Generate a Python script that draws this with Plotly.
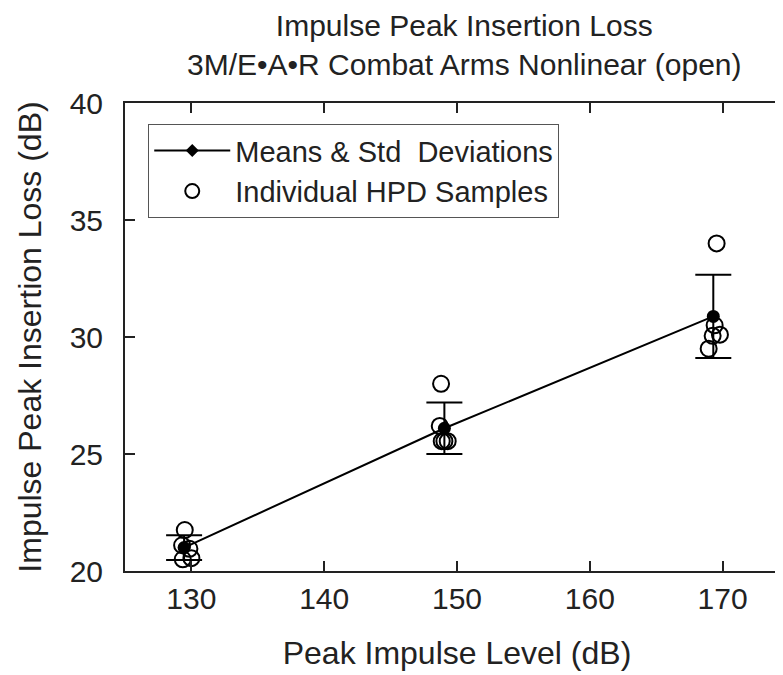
import plotly.graph_objects as go

# Individual HPD samples (peak level, insertion loss)
sample_x = [129.5, 129.3, 129.85, 129.35, 130.0,
            148.8, 148.7, 148.85, 149.3, 149.05,
            169.55, 169.4, 169.25, 169.8, 168.95]
sample_y = [21.75, 21.1, 20.95, 20.5, 20.55,
            28.0, 26.2, 25.55, 25.55, 25.55,
            34.0, 30.5, 30.05, 30.1, 29.5]

# Means and standard deviations
mean_x = [129.45, 149.05, 169.3]
mean_y = [21.0, 26.1, 30.88]
std_y = [0.53, 1.1, 1.78]

x_ticks = [130, 140, 150, 160, 170]
y_ticks = [20, 25, 30, 35, 40]

title_lines = ["Impulse Peak Insertion Loss",
               "3M/E\u2022A\u2022R Combat Arms Nonlinear (open)"]

FONT = "Arial, Liberation Sans, Helvetica, sans-serif"
INK = "#222"

fig = go.Figure()

fig.add_trace(go.Scatter(
    x=sample_x, y=sample_y, mode="markers",
    name="Individual HPD Samples",
    marker=dict(symbol="circle-open", size=16, color="black",
                line=dict(width=2, color="black")),
    showlegend=False,
))

fig.add_trace(go.Scatter(
    x=mean_x, y=mean_y, mode="lines+markers",
    name="Means & Std\u00a0 Deviations",
    line=dict(color="black", width=2),
    marker=dict(symbol="circle", size=13, color="black"),
    error_y=dict(type="data", array=std_y, visible=True,
                 color="black", thickness=2, width=18),
    showlegend=False,
))

# legend entries
fig.add_trace(go.Scatter(
    x=[None], y=[None], mode="lines+markers",
    name="Means & Std\u00a0 Deviations",
    line=dict(color="black", width=2),
    marker=dict(symbol="diamond", size=10, color="black"),
))
fig.add_trace(go.Scatter(
    x=[None], y=[None], mode="markers",
    name="Individual HPD Samples",
    marker=dict(symbol="circle-open", size=14, color="black",
                line=dict(width=2, color="black")),
))

axis_common = dict(
    showgrid=False, zeroline=False, automargin=False,
    showline=True, linecolor=INK, linewidth=2, mirror="ticks",
    ticks="inside", ticklen=10, tickwidth=2, tickcolor=INK,
    tickfont=dict(family=FONT, size=30, color=INK),
)

fig.update_layout(
    width=783, height=675,
    paper_bgcolor="white", plot_bgcolor="white",
    margin=dict(l=117, r=2, t=95, b=112),
    font=dict(family=FONT, color=INK),
    annotations=[dict(
        text="<br>".join(title_lines),
        xref="paper", yref="paper", x=0.512, y=1.205,
        xanchor="center", yanchor="top", showarrow=False,
        font=dict(family=FONT, size=30, color=INK),
    )],
    xaxis=dict(
        range=[125, 175], tickvals=x_ticks,
        title=dict(text="Peak Impulse Level (dB)", standoff=28,
                   font=dict(family=FONT, size=32, color=INK)),
        **axis_common,
    ),
    yaxis=dict(
        range=[20, 40], tickvals=y_ticks, ticklabelstandoff=14,
        title=dict(text="Impulse Peak Insertion Loss (dB)", standoff=18,
                   font=dict(family=FONT, size=32, color=INK)),
        **axis_common,
    ),
    legend=dict(
        x=0.035, y=0.955, xanchor="left", yanchor="top",
        bgcolor="white", bordercolor="#555", borderwidth=1,
        font=dict(family=FONT, size=29, color=INK),
        itemwidth=76, tracegroupgap=0,
    ),
)

fig.write_html("out.html")
